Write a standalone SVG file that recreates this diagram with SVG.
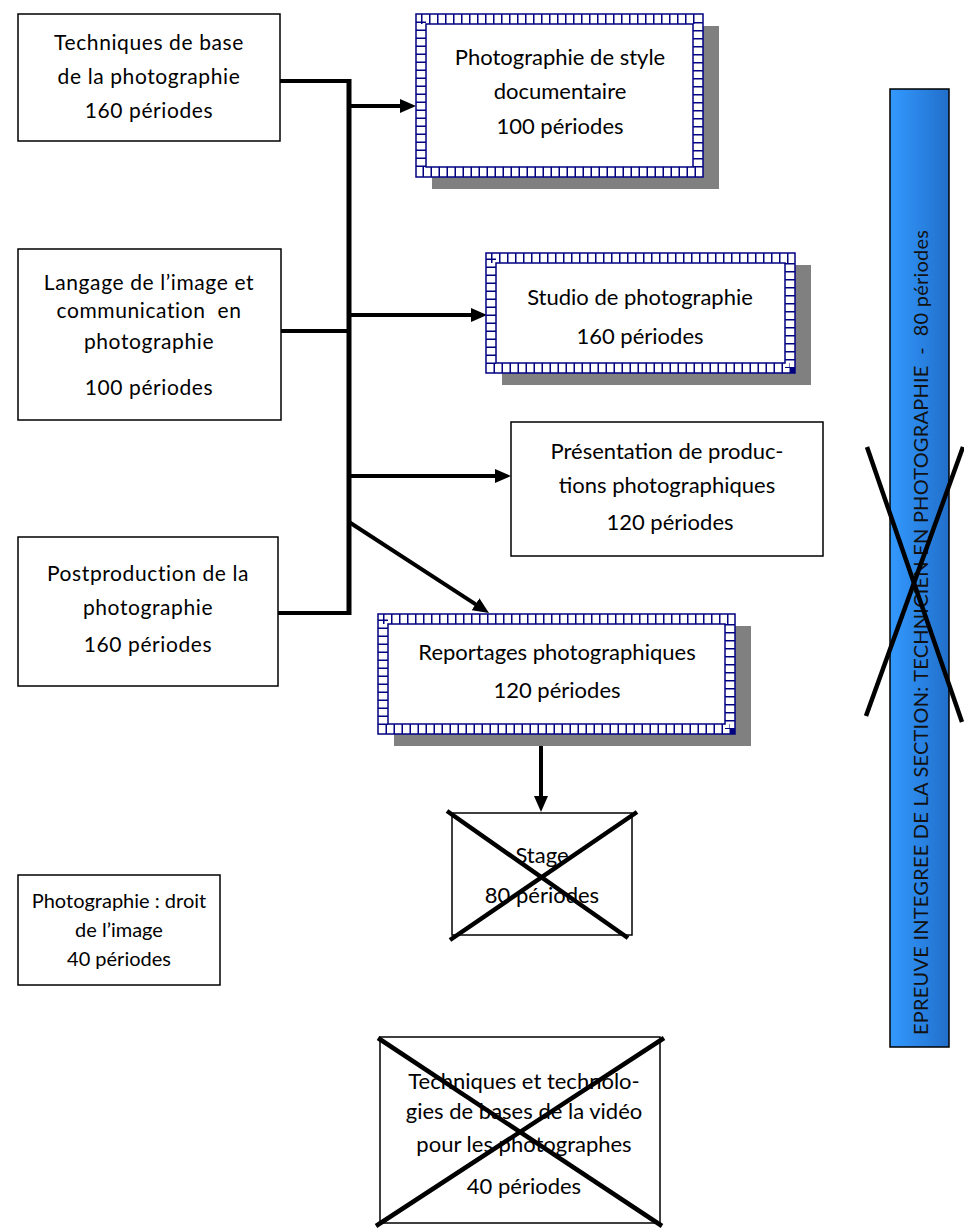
<svg xmlns="http://www.w3.org/2000/svg" width="964" height="1228" viewBox="0 0 964 1228">
<style>
.box{fill:#fff;stroke:#000;stroke-width:1.5}
.t{font-family:Lato,"Liberation Sans",sans-serif;font-size:21px;fill:#000;text-anchor:middle}
.r{font-size:22px}
.s{font-size:20px}
.ls{letter-spacing:0.6px}
.shadow{fill:#808080}
.fo{fill:#fff;stroke:#000080;stroke-width:1.5}
.fi{fill:none;stroke:#000080;stroke-width:1.5}
.fr{fill:none;stroke:#000080;stroke-width:10;stroke-dasharray:1.5 6.5}
.con{fill:none;stroke:#000;stroke-width:4}
.arr{fill:none;stroke:#000;stroke-width:4;marker-end:url(#ah)}
.x{stroke:#000;stroke-width:4.5}
</style>
<defs>
<marker id="ah" viewBox="0 0 16 14" refX="8" refY="7" markerWidth="16" markerHeight="14" markerUnits="userSpaceOnUse" orient="auto">
<path d="M0,0 L16,7 L0,14 z" fill="#000"/>
</marker>
<linearGradient id="barg" x1="0" y1="0" x2="1" y2="0">
<stop offset="0" stop-color="#3399FF"/>
<stop offset="1" stop-color="#216FCA"/>
</linearGradient>
</defs>

<g id="connectors">
<line class="con" x1="280" y1="81" x2="351" y2="81"/>
<line class="con" x1="281" y1="331" x2="351" y2="331"/>
<line class="con" x1="278" y1="613" x2="351" y2="613"/>
<line x1="349" y1="79" x2="349" y2="615" stroke="#000" stroke-width="5"/>
<line class="arr" x1="349" y1="106" x2="408" y2="106"/>
<line class="arr" x1="349" y1="315" x2="479" y2="315"/>
<line class="arr" x1="349" y1="476" x2="503" y2="476"/>
<line class="arr" x1="349" y1="522" x2="482.3" y2="608.6"/>
<line class="arr" x1="541" y1="733" x2="541" y2="804"/>
</g>

<g id="n1">
<rect class="box" x="18" y="14" width="262" height="127"/>
<text class="t ls" x="149" y="50">Techniques de base</text>
<text class="t ls" x="149" y="84">de la photographie</text>
<text class="t ls" x="149" y="118">160 périodes</text>
</g>

<g id="n2">
<rect class="box" x="18" y="249" width="263" height="171"/>
<text class="t ls" x="149" y="290">Langage de l’image et</text>
<text class="t ls" x="149" y="318" style="white-space:pre">communication  en</text>
<text class="t ls" x="149" y="349">photographie</text>
<text class="t ls" x="149" y="395">100 périodes</text>
</g>

<g id="n3">
<rect class="box" x="18" y="537" width="260" height="149"/>
<text class="t ls" x="148" y="581">Postproduction de la</text>
<text class="t ls" x="148" y="615">photographie</text>
<text class="t ls" x="148" y="652">160 périodes</text>
</g>

<g id="n4">
<rect class="box" x="18" y="875" width="202" height="110"/>
<text class="t s" x="119" y="908">Photographie : droit</text>
<text class="t s" x="119" y="937">de l’image</text>
<text class="t s" x="119" y="966">40 périodes</text>
</g>

<g id="n5">
<rect class="shadow" x="432" y="26" width="287" height="163"/>
<rect class="fo" x="416" y="14" width="287" height="163"/>
<rect class="fr" x="421" y="19" width="277" height="153"/>
<rect class="fi" x="426" y="24" width="267" height="143"/>
<text class="t r" x="560" y="65">Photographie de style</text>
<text class="t r" x="560" y="99">documentaire</text>
<text class="t r" x="560" y="134">100 périodes</text>
</g>

<g id="n6">
<rect class="shadow" x="502" y="265" width="309" height="120"/>
<rect class="fo" x="486" y="253" width="309" height="120"/>
<rect class="fr" x="491" y="258" width="299" height="110"/>
<rect class="fi" x="496" y="263" width="289" height="100"/>
<text class="t r" x="640" y="305">Studio de photographie</text>
<text class="t r" x="640" y="344">160 périodes</text>
</g>

<g id="n7">
<rect class="box" x="511" y="422" width="312" height="134"/>
<text class="t r" x="667" y="459">Présentation de produc-</text>
<text class="t r" x="667" y="493">tions photographiques</text>
<text class="t r" x="670" y="530">120 périodes</text>
</g>

<g id="n8">
<rect class="shadow" x="394" y="626" width="357" height="120"/>
<rect class="fo" x="378" y="614" width="357" height="120"/>
<rect class="fr" x="383" y="619" width="347" height="110"/>
<rect class="fi" x="388" y="624" width="337" height="100"/>
<text class="t r" x="557" y="660">Reportages photographiques</text>
<text class="t r" x="557" y="698">120 périodes</text>
</g>

<g id="n9">
<rect class="box" x="452" y="813" width="180" height="122"/>
<text class="t r" x="542" y="863">Stage</text>
<text class="t r" x="542" y="903">80 périodes</text>
<line class="x" x1="447" y1="811" x2="628" y2="938"/>
<line class="x" x1="637" y1="812" x2="450" y2="940"/>
</g>

<g id="n10">
<rect class="box" x="380" y="1037" width="280" height="186"/>
<text class="t r" x="524" y="1089">Techniques et technolo-</text>
<text class="t r" x="524" y="1119">gies de bases de la vidéo</text>
<text class="t r" x="524" y="1152">pour les photographes</text>
<text class="t r" x="524" y="1194">40 périodes</text>
<line class="x" x1="378" y1="1038" x2="662" y2="1226"/>
<line class="x" x1="664" y1="1038" x2="376" y2="1226"/>
</g>

<g id="n11">
<rect x="890" y="89" width="59" height="958" fill="url(#barg)" stroke="#000" stroke-width="1.5"/>
<text transform="translate(928,1035) rotate(-90)" font-family="Lato,'Liberation Sans',sans-serif" font-size="20" fill="#111" style="white-space:pre" textLength="805" lengthAdjust="spacing">EPREUVE INTEGREE DE LA SECTION: TECHNICIEN EN PHOTOGRAPHIE  -  80 périodes</text>
<line class="x" x1="867" y1="447" x2="962" y2="722"/>
<line class="x" x1="963" y1="447" x2="866" y2="716"/>
</g>
</svg>
